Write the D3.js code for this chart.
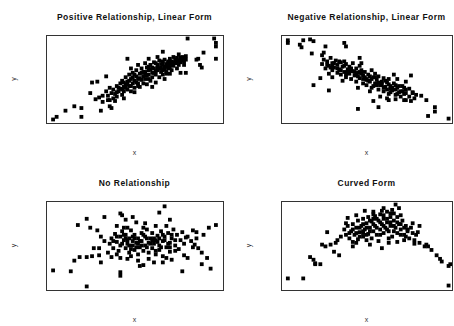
<!DOCTYPE html>
<html>
<head>
<meta charset="utf-8">
<script src="https://cdn.jsdelivr.net/npm/d3@7"></script>
<style>
  body { margin: 0; background: #fff; }
  svg { display: block; }
</style>
</head>
<body>
<svg id="chart"></svg>
<script>
// data, x and y in 0..100 relative to each frame
const titles = ["Positive Relationship, Linear Form", "Negative Relationship, Linear Form", "No Relationship", "Curved Form"];

const positivePts = [
  [80,96],[95,96],[96,91],[96,87],[96,73],[89,80],[86,73],[85,72],[87,66],[88,63],
  [79,76],[77,75],[75,78],[76,72],[78,66],[76,57],[79,57],[68,56],[67,50],[66,81],
  [46,73],[34,53],[26,46],[29,47],[25,34],[28,27],[30,29],[32,31],[32,24],[35,26],
  [36,19],[37,17],[31,14],[16,19],[20,17],[11,14],[20,7],[6,7],[4,4],[36,26],
  [34,36],[35,31],[36,40],[37,34],[38,28],[38,38],[39,33],[40,42],[40,30],[41,36],
  [42,45],[42,39],[43,32],[43,48],[44,41],[44,36],[45,52],[45,44],[46,38],[46,47],
  [47,55],[47,42],[48,50],[48,36],[49,45],[49,57],[50,48],[50,40],[51,53],[51,60],
  [52,45],[52,50],[53,56],[53,41],[54,62],[54,49],[55,53],[55,45],[56,58],[56,50],
  [57,63],[57,44],[58,55],[58,60],[59,48],[59,66],[60,57],[60,52],[61,62],[61,69],
  [62,55],[62,46],[63,60],[63,66],[64,52],[64,71],[65,58],[65,63],[66,67],[66,55],
  [67,61],[67,72],[68,64],[68,58],[69,68],[69,62],[70,73],[70,66],[71,60],[71,70],
  [72,65],[72,75],[73,68],[74,71],[74,62],[75,66],[76,69],[77,74],[78,70],[79,72],
  [70,56],[60,41],[50,35],[44,28],[39,25],[56,68],[52,66],[63,75],[48,62],[58,73],
  [45,40],[47,48],[49,52],[51,46],[53,51],[55,58],[57,54],[59,61],[61,57],[63,63],
  [65,67],[67,64],[69,70],[71,66],[73,72],[75,70],[77,71],[62,68],[66,60],[58,50],
  [54,57],[50,55],[46,44],[43,38],[41,40],[64,62],[68,67],[72,69],[74,74],[60,63],
  [56,55],[52,42],[48,42],[62,59],[70,63],[66,70],[44,46],[40,35],[58,64],[76,74]
];

const negativePts = [
  [4,94],[4,91],[13,94],[11,89],[12,86],[17,95],[19,93],[18,79],[26,87],[25,80],
  [24,77],[37,91],[38,87],[19,43],[28,37],[23,51],[45,16],[57,18],[54,25],[85,26],
  [90,18],[90,13],[86,8],[98,5],[82,31],[75,39],[77,34],[73,26],[72,26],[67,27],
  [63,26],[62,28],[76,54],[73,47],[68,50],[66,55],[67,43],[64,39],[56,43],[50,49],
  [46,74],[47,68],[37,70],
  [24,67],[25,72],[26,62],[27,70],[28,65],[29,74],[30,60],[30,68],[31,63],[32,71],
  [33,57],[33,66],[34,61],[35,69],[35,55],[36,64],[37,58],[38,67],[38,52],[39,61],
  [40,56],[40,64],[41,50],[42,59],[42,68],[43,54],[44,62],[44,47],[45,57],[46,51],
  [46,65],[47,60],[48,45],[48,54],[49,58],[50,50],[50,43],[51,55],[52,47],[53,60],
  [53,40],[54,52],[55,45],[55,56],[56,49],[57,38],[57,53],[58,43],[59,47],[60,51],
  [60,36],[61,41],[62,46],[63,33],[63,50],[64,42],[65,37],[66,45],[67,32],[68,40],
  [69,35],[70,30],[71,42],[72,33],[73,38],[75,30],[77,35],[78,28],[79,32],[76,25],
  [30,52],[28,56],[36,48],[45,40],[52,36],[58,30],
  [27,66],[29,63],[31,68],[33,62],[35,60],[37,65],[39,57],[41,62],[43,58],[45,53],
  [47,56],[49,52],[51,48],[53,50],[55,52],[57,46],[59,44],[61,48],[63,44],[65,40],
  [67,38],[69,42],[71,36],[73,34],[34,70],[40,60],[44,55],[48,50],[52,53],[56,44],
  [60,40],[64,35],[68,33],[72,40],[30,64],[38,55],[46,58],[54,42],[62,38],[70,36]
];

const nonePts = [
  [67,94],[64,87],[42,86],[43,84],[33,82],[45,79],[49,82],[23,80],[18,73],[25,70],
  [29,67],[40,72],[46,70],[51,76],[56,75],[70,79],[96,73],[92,70],[85,65],[89,62],
  [79,59],[83,67],[27,47],[30,47],[16,33],[19,37],[23,37],[26,38],[30,39],[31,31],
  [37,37],[42,36],[4,22],[14,21],[42,20],[42,16],[23,4],[77,21],[88,29],[93,24],
  [91,36],[88,42],[80,36],[78,39],[53,27],[55,28],[61,31],[66,31],[71,34],[68,36],
  [73,44],[84,51],[86,47],
  [36,52],[37,58],[38,47],[39,63],[40,54],[41,44],[42,60],[42,50],[43,66],[44,56],
  [45,47],[45,62],[46,52],[47,42],[47,58],[48,67],[49,50],[49,55],[50,45],[50,62],
  [51,53],[52,40],[52,58],[53,48],[54,64],[54,55],[55,44],[56,60],[56,50],[57,68],
  [58,53],[58,42],[59,58],[60,47],[60,64],[61,52],[62,56],[62,40],[63,61],[64,50],
  [64,45],[65,66],[66,55],[66,38],[67,60],[68,48],[69,64],[70,53],[70,43],[71,58],
  [72,68],[73,50],[74,62],[75,46],[76,56],[77,65],[78,52],[80,60],[82,55],[83,48],
  [85,58],[35,42],[33,55],[31,60],[48,38],[44,70],[55,70],[62,72],[68,72],[58,35],
  [52,33],[46,35],[40,40],
  [38,55],[40,60],[43,52],[45,58],[47,50],[49,60],[51,48],[53,55],[55,62],[57,48],
  [59,52],[61,58],[63,54],[65,48],[67,56],[69,52],[71,62],[73,56],[57,58],[52,52],
  [48,46],[44,62],[60,56],[66,62],[62,44],[54,50],[50,58],[46,56],[64,58],[70,48]
];

const curvedPts = [
  [4,13],[13,13],[98,5],[67,96],[69,92],[49,89],[44,84],[39,81],[38,75],[54,85],
  [59,89],[27,65],[24,51],[26,49],[29,51],[32,53],[31,43],[34,39],[17,37],[19,34],
  [20,30],[20,29],[23,29],[98,27],[99,29],[94,32],[93,35],[91,39],[88,45],[86,49],
  [84,49],[85,51],[81,53],[78,52],[81,72],[80,65],[77,75],[79,62],[73,60],[72,56],
  [68,54],[63,53],[59,47],[52,51],[44,53],[42,49],[48,66],
  [37,68],[38,62],[39,72],[40,58],[41,66],[42,74],[43,62],[44,70],[45,57],[45,78],
  [46,65],[47,72],[48,60],[48,80],[49,68],[50,75],[51,63],[51,82],[52,70],[53,58],
  [53,77],[54,66],[55,83],[55,72],[56,62],[57,78],[58,68],[58,85],[59,74],[60,64],
  [60,80],[61,70],[62,88],[62,76],[63,66],[64,82],[64,72],[65,60],[66,78],[66,86],
  [67,70],[68,64],[68,82],[69,74],[70,68],[71,78],[72,62],[73,72],[74,66],[75,58],
  [76,70],[77,64],[78,56],[35,60],[33,56],[42,54],[50,56],[57,55],[63,58],[70,84],
  [65,90],[60,92],[54,88],
  [40,64],[42,68],[44,64],[46,70],[48,74],[50,70],[52,78],[54,74],[56,80],[58,76],
  [60,72],[62,80],[64,76],[66,72],[68,76],[70,74],[72,70],[74,68],[56,70],[52,66],
  [48,64],[58,62],[62,68],[66,66],[60,84],[64,86],[54,80],[50,62],[46,60],[70,62]
];

const allPts = [positivePts, negativePts, nonePts, curvedPts];

var width = 454, height = 326;
var frames = [
  { left: 46,  top: 35,  w: 177, h: 88 },
  { left: 281, top: 35,  w: 171, h: 88 },
  { left: 46,  top: 201, w: 177, h: 89 },
  { left: 281, top: 201, w: 171, h: 89 }
];
var dot = 3.8;

var svg = d3.select("#chart")
  .attr("width", width)
  .attr("height", height)
  .style("font-family", "'Liberation Sans', Arial, sans-serif");

frames.forEach(function (f, i) {
  var x = d3.scaleLinear().domain([0, 100]).range([f.left, f.left + f.w]);
  var y = d3.scaleLinear().domain([0, 100]).range([f.top + f.h, f.top]);
  var g = svg.append("g").attr("class", "panel");

  g.append("text")
    .attr("x", f.left + f.w / 2)
    .attr("y", f.top - 15)
    .attr("text-anchor", "middle")
    .style("font-size", "8.5px")
    .style("font-weight", "bold")
    .style("letter-spacing", "0.45px")
    .attr("fill", "#111")
    .text(titles[i]);

  g.selectAll("rect.pt")
    .data(allPts[i])
    .enter()
    .append("rect")
    .attr("class", "pt")
    .attr("x", function (d) { return x(d[0]) - dot / 2; })
    .attr("y", function (d) { return y(d[1]) - dot / 2; })
    .attr("width", dot)
    .attr("height", dot)
    .attr("fill", "#000");

  g.append("rect")
    .attr("x", f.left + 0.5)
    .attr("y", f.top + 0.5)
    .attr("width", f.w)
    .attr("height", f.h)
    .attr("fill", "none")
    .attr("stroke", "#333")
    .attr("stroke-width", 1);

  g.append("text")
    .attr("x", f.left + f.w / 2)
    .attr("y", f.top + f.h + 32)
    .attr("text-anchor", "middle")
    .style("font-size", "7px")
    .attr("fill", "#333")
    .text("x");

  var yl = i % 2 == 0 ? 16 : 251;
  g.append("text")
    .attr("transform", "translate(" + yl + "," + (f.top + f.h / 2) + ") rotate(-90)")
    .attr("text-anchor", "middle")
    .style("font-size", "7px")
    .attr("fill", "#333")
    .text("y");
});
</script>
</body>
</html>
